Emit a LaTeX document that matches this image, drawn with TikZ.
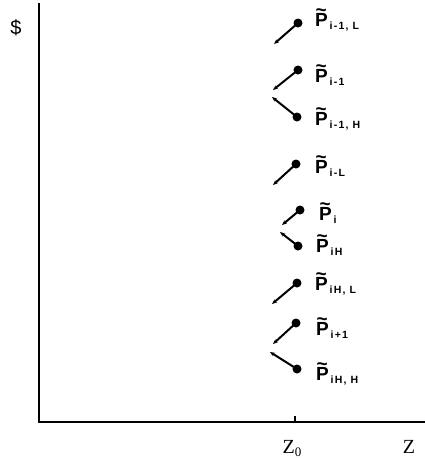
\documentclass[tikz,border=0pt]{standalone}
\usepackage{fontspec}
\setsansfont{Liberation Sans}
\newfontfamily\serifz{Liberation Serif}
\usetikzlibrary{arrows.meta}
\tikzset{
  dotnode/.style={circle,fill=black,inner sep=0pt,minimum size=9pt},
  branch/.style={line width=2pt,-{Stealth[length=5pt,width=4pt]}},
  axisline/.style={line width=2pt},
  plabel/.style={anchor=base west,inner sep=0pt,font=\sffamily\bfseries\fontsize{19}{19}\selectfont},
}
\newcommand{\tildeP}{\leavevmode\rlap{\hspace{0.5pt}\raisebox{10pt}{\symbol{126}}}P}
\newcommand{\Plab}[1]{\tildeP\raisebox{-3pt}{\fontsize{10.5}{10.5}\selectfont\addfontfeature{LetterSpace=12}\,#1}}
\begin{document}
\begin{tikzpicture}[x=1pt,y=-1pt]
\useasboundingbox (0,0) rectangle (425,459);
% axes
\coordinate (o) at (39,422);
\coordinate (ytop) at (39,3);
\coordinate (xend) at (425,422);
\draw[axisline] (ytop) -- (o) -- (xend);
\coordinate (t0) at (295,422);
\coordinate (t1) at (295,416);
\draw[line width=1.4pt] (t0) -- (t1);
\node[font=\sffamily\fontsize{20}{20}\selectfont] (dollar) at (16,28) {\$};
\node[font=\serifz\fontsize{20}{20}\selectfont,anchor=base] (z0) at (292,453) {Z\raisebox{-3pt}{\fontsize{13}{13}\selectfont 0}};
\node[font=\serifz\fontsize{20}{20}\selectfont,anchor=base] (z) at (409,453) {Z};
% dots
\node[dotnode] (d1) at (298,23) {};
\node[dotnode] (d2) at (298,70) {};
\node[dotnode] (d3) at (297,117) {};
\node[dotnode] (d4) at (296,164) {};
\node[dotnode] (d5) at (300,210) {};
\node[dotnode] (d6) at (298,246) {};
\node[dotnode] (d7) at (297,283) {};
\node[dotnode] (d8) at (296,323) {};
\node[dotnode] (d9) at (297,369) {};
% free ends
\coordinate (e1) at (274,44);
\coordinate (e2) at (273,90);
\coordinate (e3) at (272,97);
\coordinate (e4) at (273,185);
\coordinate (e5) at (282,225);
\coordinate (e6) at (280,232);
\coordinate (e7) at (272,304);
\coordinate (e8) at (273,344);
\coordinate (e9) at (270,352);
\foreach \i in {1,...,9}{\draw[branch] (d\i.center) -- (e\i);}
% labels
\node[plabel] (l1) at (315,26) {\Plab{i-1, L}};
\node[plabel] (l2) at (315,82) {\Plab{i-1}};
\node[plabel] (l3) at (315,125) {\Plab{i-1, H}};
\node[plabel] (l4) at (315,173) {\Plab{i-L}};
\node[plabel] (l5) at (319,220) {\Plab{i}};
\node[plabel] (l6) at (316,252) {\Plab{iH}};
\node[plabel] (l7) at (315,290) {\Plab{iH, L}};
\node[plabel] (l8) at (316,335) {\Plab{i+1}};
\node[plabel] (l9) at (316,380) {\Plab{iH, H}};
\end{tikzpicture}
\end{document}
